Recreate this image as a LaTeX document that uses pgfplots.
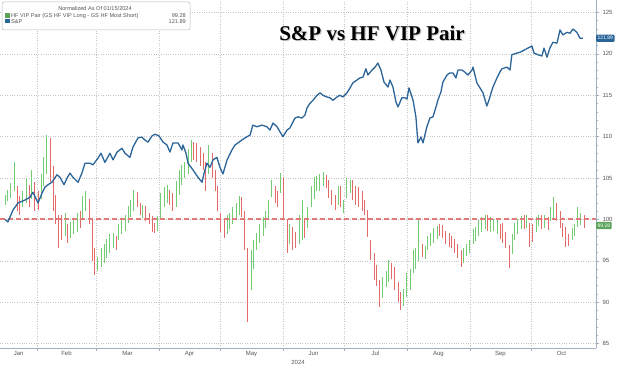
\documentclass[border=0pt]{standalone}
\usepackage{fontspec}
\setmainfont{Liberation Sans}
\newfontfamily\titlefont{Liberation Serif}
\usepackage{pgfplots}
\usepackage{pgfplotstable}
\pgfplotsset{compat=1.18}
\definecolor{spblue}{HTML}{2A6498}
\definecolor{vipgreen}{HTML}{72CC72}
\definecolor{vipred}{HTML}{E46A6A}
\definecolor{axisblue}{HTML}{9DB0C4}
\definecolor{gridgray}{HTML}{C4C4C4}
\definecolor{ticktext}{HTML}{555555}
\definecolor{refline}{HTML}{E27A7A}

\pgfplotstableread{
d lo hi
15.3 101.8 103.0
16.7 102.2 103.6
18.2 102.6 104.4
19.7 103.5 107.0
24.1 101.5 103.5
25.6 102.0 105.0
28.5 102.5 106.0
33.0 102.5 105.5
34.4 104.0 107.5
35.9 105.5 110.2
44.8 98.0 100.8
47.7 97.8 99.7
49.2 98.3 100.2
50.7 98.5 100.8
53.6 100.0 102.8
55.1 101.0 103.4
61.0 93.8 95.5
62.5 94.3 96.6
64.0 94.8 97.0
65.4 95.3 97.6
66.9 96.0 98.2
68.4 96.5 98.4
71.3 97.5 99.4
72.8 98.2 100.0
74.3 98.6 100.6
75.8 99.6 101.6
77.2 100.3 102.4
78.7 101.0 103.6
83.1 100.2 101.8
90.5 98.6 100.4
92.0 100.0 103.2
93.5 101.5 103.9
95.0 102.0 104.2
99.4 101.5 104.6
100.9 103.0 106.0
102.3 104.2 106.6
103.8 105.0 107.0
105.3 105.5 108.5
106.8 107.0 109.6
115.6 105.5 109.0
124.5 98.3 100.5
125.9 98.8 100.8
127.4 99.5 101.5
128.9 100.0 102.0
130.4 100.5 102.8
136.3 91.5 96.3
137.7 94.0 97.5
139.2 96.3 98.4
140.7 97.2 99.5
142.2 98.0 100.3
143.6 99.0 101.0
145.1 100.0 102.4
146.6 102.7 104.8
151.0 103.2 105.6
155.4 97.0 99.5
159.9 97.0 100.5
161.4 97.5 102.4
164.3 99.0 101.5
165.8 101.5 104.0
167.3 102.5 105.1
168.7 103.5 105.3
170.2 103.5 105.5
171.7 104.0 105.7
179.1 101.8 104.0
182.0 100.8 102.4
183.5 102.6 105.0
185.0 103.2 104.8
201.2 90.5 93.0
202.7 91.8 93.8
204.1 92.5 95.1
211.5 89.5 91.6
213.0 90.6 93.5
214.5 91.5 94.0
216.0 93.5 96.3
217.4 94.0 96.5
218.9 95.0 100.0
221.9 95.2 96.8
223.3 96.3 98.0
224.8 96.8 98.4
226.3 97.2 99.0
227.8 97.6 99.2
241.0 94.8 96.6
242.5 95.6 97.1
244.0 96.0 97.5
245.5 97.0 98.8
246.9 97.4 99.1
248.4 98.0 99.9
249.9 98.5 100.3
251.4 98.8 100.6
254.3 98.5 100.3
255.8 98.6 100.0
257.3 98.2 100.1
264.7 95.8 98.2
266.1 97.5 99.6
267.6 98.2 100.0
269.1 98.8 100.4
272.0 99.0 100.6
276.5 98.5 100.3
277.9 99.2 100.6
280.9 99.0 100.6
283.8 99.8 101.5
285.3 100.2 102.7
294.2 97.5 99.0
295.6 98.0 99.5
297.1 99.1 101.5
298.6 99.3 100.8
}\greenbars

\pgfplotstableread{
d lo hi
21.2 101.0 104.0
22.6 100.6 102.8
27.1 101.5 104.2
30.0 101.0 104.5
31.5 101.2 103.5
37.4 104.5 109.8
38.9 101.0 106.5
40.3 99.5 103.0
41.8 96.6 100.5
43.3 97.5 100.5
46.2 97.2 99.5
52.2 99.0 101.0
56.6 99.5 102.5
58.1 95.0 100.0
59.5 93.3 96.5
69.9 96.3 98.0
80.2 101.5 103.3
81.7 100.6 102.0
84.6 99.8 101.6
86.1 99.4 100.8
87.6 98.5 100.4
89.0 98.4 99.6
96.4 101.8 103.6
97.9 101.0 103.2
108.2 107.2 109.4
109.7 107.0 109.2
111.2 106.5 108.8
112.7 106.0 108.0
114.1 103.5 107.0
117.1 105.0 108.0
118.6 103.5 106.0
120.0 101.0 104.0
121.5 98.5 100.8
123.0 97.8 100.0
131.8 100.3 102.7
133.3 96.3 101.0
134.8 87.6 96.5
148.1 102.0 104.0
149.5 101.5 103.5
152.5 100.0 105.1
154.0 96.0 100.0
156.9 96.3 99.1
158.4 96.5 98.5
162.8 97.8 100.0
173.2 103.8 105.4
174.6 102.6 104.8
176.1 101.8 103.6
177.6 101.2 103.0
180.5 101.5 104.0
186.4 102.4 104.8
187.9 101.8 104.0
189.4 101.5 103.9
190.9 101.0 103.4
192.3 100.5 102.4
193.8 97.9 101.1
195.3 95.1 97.5
196.8 92.7 96.0
198.2 92.0 94.5
199.7 89.4 92.7
205.6 92.8 94.8
207.1 91.5 94.3
208.6 90.0 92.5
210.0 89.1 91.3
220.4 95.5 97.0
229.2 98.0 99.4
230.7 97.8 99.3
232.2 97.0 98.6
233.7 96.7 98.4
235.1 96.5 98.0
236.6 96.0 97.6
238.1 95.4 97.0
239.6 94.3 96.3
252.8 98.6 100.5
258.8 97.6 99.4
260.2 97.2 99.6
261.7 96.5 98.5
263.2 94.1 96.9
270.6 98.9 100.5
273.5 96.7 99.6
275.0 97.3 99.4
279.4 98.8 100.5
282.4 98.7 100.3
286.8 99.8 102.0
288.3 99.0 101.0
289.7 97.9 99.6
291.2 96.7 99.1
292.7 96.8 98.2
300.1 99.0 100.5
}\redbars

\begin{document}
\begin{tikzpicture}
\useasboundingbox (0pt,-19pt) rectangle (620pt,348pt);
\begin{axis}[
  at={(0pt,0pt)}, anchor=south west,
  width=596pt, height=348pt, scale only axis,
  xmin=12.8, xmax=306, ymin=84.48, ymax=126.51,
  axis x line*=bottom, axis y line*=right,
  axis line style={axisblue, line width=1pt},
  xtick={31,60,91,121,152,182,213,244,274},
  xticklabels={},
  extra x ticks={22,45.5,75.5,106,136.5,167,197.5,228.5,259,289},
  extra x tick labels={Jan,Feb,Mar,Apr,May,Jun,Jul,Aug,Sep,Oct},
  extra x tick style={grid=none, major tick length=0pt},
  ytick={85,90,...,125},
  minor y tick num=4,
  grid=major,
  major grid style={gridgray, dotted, line width=0.7pt},
  tick style={axisblue, line width=0.6pt},
  major tick length=3pt, minor tick length=1.5pt,
  tick align=outside,
  ticklabel style={font=\fontsize{6}{7}\selectfont, text=ticktext},
  /pgf/number format/assume math mode=true,
  xlabel={2024},
  xlabel style={font=\fontsize{6}{7}\selectfont, text=ticktext, inner sep=0pt, yshift=3pt},
  clip=false,
]
\addplot[draw=none, mark=none, forget plot,
  error bars/.cd, y dir=plus, y explicit, error mark=none,
  error bar style={draw=vipgreen, line width=1pt}]
  table[x=d, y=lo, y error expr=\thisrow{hi}-\thisrow{lo}] {\greenbars};
\addplot[draw=none, mark=none, forget plot,
  error bars/.cd, y dir=plus, y explicit, error mark=none,
  error bar style={draw=vipred, line width=1pt}]
  table[x=d, y=lo, y error expr=\thisrow{hi}-\thisrow{lo}] {\redbars};
\addplot[draw=refline, line width=2pt, dash pattern=on 5pt off 3pt, forget plot]
  coordinates {(12.8,100) (306,100)};
\addplot[spblue, line width=1.3pt, line join=round] coordinates {
(15.3,100.0) (16.7,99.7) (19.2,101.15) (21.7,102.0) (25.1,102.35) (27.6,102.7)
(29.0,103.3) (31.5,102.0) (33.5,103.2) (34.9,103.9) (36.4,104.2) (38.4,104.5)
(40.8,105.4) (42.3,105.1) (44.3,104.2) (45.8,105.0) (47.2,105.6) (48.7,105.1)
(51.2,104.5) (53.1,105.6) (54.6,106.8) (57.1,106.8) (58.5,106.6) (61.0,107.4)
(62.5,108.0) (64.4,106.9) (66.9,108.0) (68.4,107.2) (70.4,108.15) (72.8,108.6)
(74.3,108.0) (76.7,107.5) (78.2,108.75) (80.7,109.85) (82.6,109.95) (84.1,109.6)
(85.6,109.35) (87.6,110.1) (89.0,110.3) (91.0,110.1) (93.0,109.35) (94.9,109.0)
(96.4,108.15) (97.9,109.25) (100.4,109.25) (102.3,108.4) (102.8,109.0) (104.3,108.0)
(105.3,106.8) (107.7,106.0) (110.2,105.1) (112.2,104.5) (113.1,105.5) (114.6,106.8)
(116.1,106.3) (117.6,107.2) (119.5,107.5) (121.0,106.3) (122.5,105.5) (124.5,107.2)
(126.9,108.4) (128.4,109.0) (129.9,109.25) (131.8,109.6) (133.3,109.85) (135.8,110.2)
(137.2,111.4) (139.2,111.2) (141.7,111.4) (144.1,111.2) (145.6,110.8) (147.1,111.65)
(149.1,111.2) (150.5,110.6) (152.0,110.0) (154.0,110.8) (155.4,111.05) (157.9,112.25)
(159.4,112.4) (161.3,112.25) (162.8,112.6) (163.8,113.45) (165.3,114.05) (166.8,114.4)
(168.7,115.0) (170.2,115.3) (171.7,115.0) (173.6,114.8) (175.1,114.7) (176.6,114.4)
(178.6,114.8) (180.0,115.0) (181.5,114.8) (183.5,115.3) (185.0,115.9) (186.4,116.5)
(188.4,116.85) (189.9,117.1) (191.4,117.2) (192.8,118.2) (193.8,117.45) (195.8,118.05)
(197.3,118.4) (198.7,118.9) (200.2,118.05) (201.7,116.6) (203.7,116.0) (204.6,116.85)
(206.1,116.0) (207.6,114.2) (208.6,113.6) (210.5,114.7) (212.0,114.7) (213.0,114.55)
(214.0,115.9) (216.0,114.4) (217.4,112.4) (218.4,109.25) (219.9,109.95) (220.9,109.25)
(222.8,111.2) (224.3,112.25) (225.8,112.4) (227.3,113.6) (228.2,114.4) (229.7,115.4)
(230.7,116.6) (232.7,117.45) (234.1,117.7) (235.6,117.7) (237.1,117.1) (238.1,118.05)
(240.1,118.05) (241.5,117.8) (243.0,117.45) (245.0,118.05) (245.5,118.4) (247.4,116.5)
(248.9,115.9) (250.4,115.3) (252.3,113.7) (253.3,114.4) (255.3,116.0) (257.3,117.1)
(258.7,117.8) (259.7,118.2) (262.2,118.4) (263.7,118.05) (264.6,119.9) (267.1,120.1)
(268.6,120.2) (271.0,120.5) (272.5,120.7) (274.5,120.95) (275.5,120.1) (277.4,119.9)
(279.4,119.75) (280.4,120.7) (281.9,119.6) (283.3,120.7) (284.8,121.4) (286.8,121.3)
(288.3,122.9) (289.7,122.3) (291.7,122.6) (293.2,122.5) (294.7,123.0) (296.6,122.6)
(298.1,121.9) (299.6,121.89)
};
\node[fill=spblue, text=white, font=\fontsize{5}{5}\selectfont, inner xsep=1.5pt, inner ysep=1.8pt, rounded corners=1pt, anchor=west] at (axis cs:306,121.89) {121.89};
\node[fill=vipgreen!80!black, text=white, font=\fontsize{5}{5}\selectfont, inner xsep=1.5pt, inner ysep=1.8pt, rounded corners=1pt, anchor=west] at (axis cs:306,99.28) {99.28};
\end{axis}
% legend box
\draw[gray!55, line width=0.5pt, rounded corners=2pt, fill=white] (2pt,318pt) rectangle (190pt,346pt);
\begin{scope}[every node/.style={font=\fontsize{5.6}{6}\selectfont, text=ticktext, inner sep=0pt}]
\node at (95pt,339pt) {Normalized As Of 01/15/2024};
\fill[vipgreen!80!black] (5pt,330pt) rectangle (9.5pt,334.5pt);
\node[anchor=west] at (11pt,332.3pt) {HF VIP Pair (GS HF VIP Long - GS HF Most Short)};
\node[anchor=east] at (186pt,332.3pt) {99.28};
\fill[spblue] (5pt,324.5pt) rectangle (9.5pt,329pt);
\node[anchor=west] at (11pt,326.8pt) {S\&P};
\node[anchor=east] at (186pt,326.8pt) {121.89};
\end{scope}
% title
\node[font=\titlefont\bfseries\fontsize{21}{21}\selectfont, text=black!35, opacity=0.6] at (373.2pt,313.8pt) {S\&P vs HF VIP Pair};
\node[font=\titlefont\bfseries\fontsize{21}{21}\selectfont] at (372pt,315pt) {S\&P vs HF VIP Pair};
\end{tikzpicture}
\end{document}
